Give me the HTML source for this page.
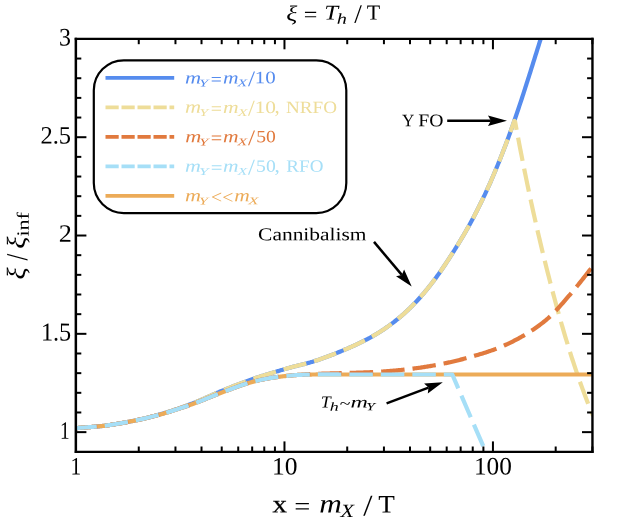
<!DOCTYPE html>
<html><head><meta charset="utf-8"><title>plot</title>
<style>
html,body{margin:0;padding:0;background:#fff;}
svg{display:block;will-change:transform}
text{font-family:"Liberation Serif",serif;}
.it{font-style:italic}
.sb{stroke:#000;stroke-width:0.25px}
</style></head><body>
<svg width="630" height="520" viewBox="0 0 630 520">
<rect width="630" height="520" fill="#fff"/>
<defs><clipPath id="c"><rect x="76.0" y="38.9" width="516.4" height="412.90000000000003"/></clipPath></defs>
<g clip-path="url(#c)" fill="none" stroke-linecap="butt" stroke-linejoin="round">
<path d="M70.00,428.90 L70.68,428.82 L71.36,428.73 L72.04,428.65 L72.72,428.57 L73.40,428.48 L74.08,428.41 L74.76,428.33 L75.44,428.26 L76.12,428.19 L76.80,428.12 L77.48,428.06 L78.16,428.00 L78.84,427.94 L79.52,427.88 L80.20,427.82 L80.87,427.77 L81.55,427.71 L82.23,427.66 L82.91,427.61 L83.59,427.56 L84.27,427.51 L84.95,427.46 L85.63,427.41 L86.31,427.36 L86.99,427.31 L87.67,427.26 L88.35,427.21 L89.03,427.17 L89.71,427.12 L90.39,427.07 L91.07,427.02 L91.75,426.97 L92.43,426.92 L93.11,426.87 L93.79,426.81 L94.47,426.76 L95.15,426.70 L95.83,426.65 L96.51,426.59 L97.19,426.53 L97.87,426.46 L98.55,426.40 L99.23,426.33 L99.91,426.26 L100.59,426.19 L101.27,426.12 L101.95,426.04 L102.62,425.96 L103.30,425.88 L103.98,425.80 L104.66,425.72 L105.34,425.63 L106.02,425.54 L106.70,425.45 L107.38,425.36 L108.06,425.27 L108.74,425.17 L109.42,425.08 L110.10,424.98 L110.78,424.88 L111.46,424.77 L112.14,424.67 L112.82,424.57 L113.50,424.46 L114.18,424.35 L114.86,424.24 L115.54,424.13 L116.22,424.02 L116.90,423.91 L117.58,423.79 L118.26,423.68 L118.94,423.56 L119.62,423.44 L120.30,423.32 L120.98,423.20 L121.66,423.08 L122.34,422.96 L123.02,422.84 L123.70,422.71 L124.37,422.59 L125.05,422.46 L125.73,422.34 L126.41,422.21 L127.09,422.08 L127.77,421.95 L128.45,421.82 L129.13,421.69 L129.81,421.56 L130.49,421.43 L131.17,421.30 L131.85,421.17 L132.53,421.04 L133.21,420.90 L133.89,420.76 L134.57,420.63 L135.25,420.49 L135.93,420.34 L136.61,420.20 L137.29,420.06 L137.97,419.91 L138.65,419.76 L139.33,419.61 L140.01,419.46 L140.69,419.30 L141.37,419.15 L142.05,418.99 L142.73,418.83 L143.41,418.67 L144.09,418.51 L144.77,418.34 L145.45,418.18 L146.12,418.01 L146.80,417.85 L147.48,417.68 L148.16,417.51 L148.84,417.33 L149.52,417.16 L150.20,416.99 L150.88,416.81 L151.56,416.63 L152.24,416.46 L152.92,416.28 L153.60,416.09 L154.28,415.91 L154.96,415.73 L155.64,415.55 L156.32,415.36 L157.00,415.17 L157.68,414.99 L158.36,414.80 L159.04,414.61 L159.72,414.42 L160.40,414.23 L161.08,414.03 L161.76,413.84 L162.44,413.65 L163.12,413.45 L163.80,413.25 L164.48,413.05 L165.16,412.85 L165.84,412.65 L166.52,412.44 L167.19,412.23 L167.87,412.02 L168.55,411.81 L169.23,411.60 L169.91,411.38 L170.59,411.17 L171.27,410.95 L171.95,410.73 L172.63,410.50 L173.31,410.28 L173.99,410.05 L174.67,409.82 L175.35,409.59 L176.03,409.36 L176.71,409.13 L177.39,408.90 L178.07,408.66 L178.75,408.43 L179.43,408.19 L180.11,407.95 L180.79,407.71 L181.47,407.46 L182.15,407.22 L182.83,406.98 L183.51,406.73 L184.19,406.48 L184.87,406.24 L185.55,405.99 L186.23,405.74 L186.91,405.49 L187.59,405.23 L188.27,404.98 L188.94,404.73 L189.62,404.47 L190.30,404.22 L190.98,403.96 L191.66,403.70 L192.34,403.45 L193.02,403.18 L193.70,402.92 L194.38,402.65 L195.06,402.38 L195.74,402.11 L196.42,401.83 L197.10,401.55 L197.78,401.27 L198.46,400.99 L199.14,400.70 L199.82,400.41 L200.50,400.12 L201.18,399.83 L201.86,399.53 L202.54,399.24 L203.22,398.94 L203.90,398.64 L204.58,398.34 L205.26,398.04 L205.94,397.74 L206.62,397.44 L207.30,397.13 L207.98,396.83 L208.66,396.53 L209.34,396.22 L210.02,395.92 L210.69,395.62 L211.37,395.32 L212.05,395.01 L212.73,394.71 L213.41,394.41 L214.09,394.11 L214.77,393.82 L215.45,393.52 L216.13,393.22 L216.81,392.93 L217.49,392.64 L218.17,392.35 L218.85,392.06 L219.53,391.78 L220.21,391.49 L220.89,391.21 L221.57,390.93 L222.25,390.66 L222.93,390.38 L223.61,390.11 L224.29,389.83 L224.97,389.56 L225.65,389.29 L226.33,389.01 L227.01,388.74 L227.69,388.47 L228.37,388.19 L229.05,387.92 L229.73,387.65 L230.41,387.38 L231.09,387.11 L231.77,386.84 L232.44,386.57 L233.12,386.30 L233.80,386.03 L234.48,385.76 L235.16,385.50 L235.84,385.23 L236.52,384.96 L237.20,384.70 L237.88,384.44 L238.56,384.18 L239.24,383.92 L239.92,383.66 L240.60,383.40 L241.28,383.14 L241.96,382.88 L242.64,382.63 L243.32,382.37 L244.00,382.12 L244.68,381.87 L245.36,381.62 L246.04,381.37 L246.72,381.13 L247.40,380.88 L248.08,380.64 L248.76,380.39 L249.44,380.15 L250.12,379.92 L250.80,379.68 L251.48,379.44 L252.16,379.21 L252.84,378.98 L253.52,378.75 L254.19,378.52 L254.87,378.29 L255.55,378.06 L256.23,377.84 L256.91,377.62 L257.59,377.40 L258.27,377.17 L258.95,376.96 L259.63,376.74 L260.31,376.52 L260.99,376.30 L261.67,376.09 L262.35,375.87 L263.03,375.66 L263.71,375.45 L264.39,375.24 L265.07,375.03 L265.75,374.82 L266.43,374.61 L267.11,374.40 L267.79,374.19 L268.47,373.99 L269.15,373.78 L269.83,373.57 L270.51,373.37 L271.19,373.16 L271.87,372.96 L272.55,372.75 L273.23,372.55 L273.91,372.34 L274.59,372.14 L275.26,371.94 L275.94,371.73 L276.62,371.53 L277.30,371.33 L277.98,371.12 L278.66,370.92 L279.34,370.72 L280.02,370.51 L280.70,370.31 L281.38,370.11 L282.06,369.90 L282.74,369.70 L283.42,369.50 L284.10,369.29 L284.78,369.09 L285.46,368.89 L286.14,368.70 L286.82,368.50 L287.50,368.30 L288.18,368.11 L288.86,367.92 L289.54,367.73 L290.22,367.54 L290.90,367.36 L291.58,367.17 L292.26,367.00 L292.94,366.82 L293.62,366.65 L294.30,366.47 L294.98,366.30 L295.66,366.14 L296.34,365.97 L297.01,365.80 L297.69,365.64 L298.37,365.47 L299.05,365.31 L299.73,365.14 L300.41,364.98 L301.09,364.81 L301.77,364.65 L302.45,364.48 L303.13,364.31 L303.81,364.15 L304.49,363.97 L305.17,363.80 L305.85,363.63 L306.53,363.45 L307.21,363.27 L307.89,363.08 L308.57,362.90 L309.25,362.71 L309.93,362.51 L310.61,362.32 L311.29,362.11 L311.97,361.91 L312.65,361.70 L313.33,361.49 L314.01,361.28 L314.69,361.06 L315.37,360.84 L316.05,360.62 L316.73,360.40 L317.41,360.17 L318.09,359.95 L318.76,359.72 L319.44,359.48 L320.12,359.25 L320.80,359.01 L321.48,358.77 L322.16,358.53 L322.84,358.29 L323.52,358.04 L324.20,357.80 L324.88,357.55 L325.56,357.30 L326.24,357.05 L326.92,356.79 L327.60,356.54 L328.28,356.28 L328.96,356.03 L329.64,355.77 L330.32,355.51 L331.00,355.24 L331.68,354.98 L332.36,354.72 L333.04,354.45 L333.72,354.18 L334.40,353.91 L335.08,353.65 L335.76,353.38 L336.44,353.11 L337.12,352.83 L337.80,352.56 L338.48,352.29 L339.16,352.01 L339.84,351.74 L340.51,351.46 L341.19,351.18 L341.87,350.90 L342.55,350.62 L343.23,350.34 L343.91,350.05 L344.59,349.77 L345.27,349.48 L345.95,349.19 L346.63,348.89 L347.31,348.60 L347.99,348.31 L348.67,348.01 L349.35,347.71 L350.03,347.41 L350.71,347.11 L351.39,346.81 L352.07,346.50 L352.75,346.20 L353.43,345.89 L354.11,345.58 L354.79,345.27 L355.47,344.95 L356.15,344.64 L356.83,344.32 L357.51,344.00 L358.19,343.68 L358.87,343.36 L359.55,343.03 L360.23,342.70 L360.91,342.37 L361.58,342.04 L362.26,341.70 L362.94,341.37 L363.62,341.03 L364.30,340.68 L364.98,340.34 L365.66,339.99 L366.34,339.64 L367.02,339.29 L367.70,338.93 L368.38,338.57 L369.06,338.21 L369.74,337.85 L370.42,337.47 L371.10,337.10 L371.78,336.72 L372.46,336.33 L373.14,335.94 L373.82,335.55 L374.50,335.15 L375.18,334.75 L375.86,334.35 L376.54,333.94 L377.22,333.53 L377.90,333.12 L378.58,332.70 L379.26,332.27 L379.94,331.84 L380.62,331.41 L381.30,330.98 L381.98,330.53 L382.66,330.09 L383.33,329.64 L384.01,329.19 L384.69,328.73 L385.37,328.27 L386.05,327.80 L386.73,327.33 L387.41,326.85 L388.09,326.37 L388.77,325.88 L389.45,325.39 L390.13,324.89 L390.81,324.39 L391.49,323.89 L392.17,323.38 L392.85,322.86 L393.53,322.34 L394.21,321.81 L394.89,321.28 L395.57,320.74 L396.25,320.20 L396.93,319.65 L397.61,319.10 L398.29,318.54 L398.97,317.98 L399.65,317.41 L400.33,316.84 L401.01,316.25 L401.69,315.67 L402.37,315.08 L403.05,314.48 L403.73,313.87 L404.41,313.26 L405.08,312.65 L405.76,312.03 L406.44,311.40 L407.12,310.77 L407.80,310.13 L408.48,309.48 L409.16,308.83 L409.84,308.17 L410.52,307.50 L411.20,306.83 L411.88,306.16 L412.56,305.47 L413.24,304.78 L413.92,304.08 L414.60,303.38 L415.28,302.67 L415.96,301.95 L416.64,301.23 L417.32,300.50 L418.00,299.76 L418.68,299.02 L419.36,298.26 L420.04,297.51 L420.72,296.74 L421.40,295.97 L422.08,295.19 L422.76,294.40 L423.44,293.61 L424.12,292.81 L424.80,292.00 L425.48,291.19 L426.16,290.37 L426.83,289.54 L427.51,288.71 L428.19,287.87 L428.87,287.02 L429.55,286.16 L430.23,285.30 L430.91,284.43 L431.59,283.55 L432.27,282.66 L432.95,281.77 L433.63,280.87 L434.31,279.97 L434.99,279.05 L435.67,278.13 L436.35,277.20 L437.03,276.27 L437.71,275.33 L438.39,274.38 L439.07,273.42 L439.75,272.46 L440.43,271.48 L441.11,270.51 L441.79,269.52 L442.47,268.53 L443.15,267.53 L443.83,266.53 L444.51,265.52 L445.19,264.50 L445.87,263.48 L446.55,262.46 L447.23,261.42 L447.91,260.39 L448.58,259.34 L449.26,258.30 L449.94,257.24 L450.62,256.18 L451.30,255.12 L451.98,254.05 L452.66,252.98 L453.34,251.91 L454.02,250.83 L454.70,249.74 L455.38,248.65 L456.06,247.56 L456.74,246.47 L457.42,245.36 L458.10,244.26 L458.78,243.15 L459.46,242.03 L460.14,240.91 L460.82,239.78 L461.50,238.64 L462.18,237.50 L462.86,236.35 L463.54,235.20 L464.22,234.04 L464.90,232.87 L465.58,231.69 L466.26,230.51 L466.94,229.32 L467.62,228.12 L468.30,226.91 L468.98,225.69 L469.65,224.47 L470.33,223.23 L471.01,221.99 L471.69,220.74 L472.37,219.47 L473.05,218.20 L473.73,216.92 L474.41,215.62 L475.09,214.32 L475.77,213.01 L476.45,211.69 L477.13,210.35 L477.81,209.01 L478.49,207.66 L479.17,206.30 L479.85,204.92 L480.53,203.54 L481.21,202.15 L481.89,200.74 L482.57,199.33 L483.25,197.90 L483.93,196.47 L484.61,195.02 L485.29,193.57 L485.97,192.10 L486.65,190.62 L487.33,189.14 L488.01,187.64 L488.69,186.13 L489.37,184.61 L490.05,183.07 L490.73,181.53 L491.40,179.98 L492.08,178.41 L492.76,176.84 L493.44,175.25 L494.12,173.65 L494.80,172.04 L495.48,170.42 L496.16,168.79 L496.84,167.15 L497.52,165.49 L498.20,163.82 L498.88,162.15 L499.56,160.46 L500.24,158.76 L500.92,157.04 L501.60,155.32 L502.28,153.58 L502.96,151.83 L503.64,150.07 L504.32,148.30 L505.00,146.52 L505.68,144.72 L506.36,142.91 L507.04,141.09 L507.72,139.26 L508.40,137.41 L509.08,135.55 L509.76,133.69 L510.44,131.80 L511.12,129.91 L511.80,128.00 L512.48,126.08 L513.15,124.15 L513.83,122.21 L514.51,120.25 L515.19,118.28 L515.87,116.30 L516.55,114.30 L517.23,112.30 L517.91,110.28 L518.59,108.25 L519.27,106.21 L519.95,104.17 L520.63,102.11 L521.31,100.04 L521.99,97.97 L522.67,95.88 L523.35,93.79 L524.03,91.69 L524.71,89.58 L525.39,87.47 L526.07,85.35 L526.75,83.22 L527.43,81.09 L528.11,78.95 L528.79,76.81 L529.47,74.66 L530.15,72.51 L530.83,70.36 L531.51,68.20 L532.19,66.04 L532.87,63.87 L533.55,61.71 L534.23,59.54 L534.90,57.37 L535.58,55.20 L536.26,53.02 L536.94,50.85 L537.62,48.68 L538.30,46.51 L538.98,44.33 L539.66,42.16 L540.34,40.00 L541.02,37.83 L541.70,35.66 L542.38,33.50 L543.06,31.34 L543.74,29.19 L544.42,27.04 L545.10,24.89" stroke="#568cee" stroke-width="4.2"/>
<path d="M70.00,428.90 L70.68,428.82 L71.36,428.73 L72.04,428.65 L72.72,428.57 L73.40,428.48 L74.08,428.41 L74.76,428.33 L75.44,428.26 L76.12,428.19 L76.80,428.12 L77.48,428.06 L78.16,428.00 L78.84,427.94 L79.52,427.88 L80.20,427.82 L80.87,427.77 L81.55,427.71 L82.23,427.66 L82.91,427.61 L83.59,427.56 L84.27,427.51 L84.95,427.46 L85.63,427.41 L86.31,427.36 L86.99,427.31 L87.67,427.26 L88.35,427.21 L89.03,427.17 L89.71,427.12 L90.39,427.07 L91.07,427.02 L91.75,426.97 L92.43,426.92 L93.11,426.87 L93.79,426.81 L94.47,426.76 L95.15,426.70 L95.83,426.65 L96.51,426.59 L97.19,426.53 L97.87,426.46 L98.55,426.40 L99.23,426.33 L99.91,426.26 L100.59,426.19 L101.27,426.12 L101.95,426.04 L102.62,425.96 L103.30,425.88 L103.98,425.80 L104.66,425.72 L105.34,425.63 L106.02,425.54 L106.70,425.45 L107.38,425.36 L108.06,425.27 L108.74,425.17 L109.42,425.08 L110.10,424.98 L110.78,424.88 L111.46,424.77 L112.14,424.67 L112.82,424.57 L113.50,424.46 L114.18,424.35 L114.86,424.24 L115.54,424.13 L116.22,424.02 L116.90,423.91 L117.58,423.79 L118.26,423.68 L118.94,423.56 L119.62,423.44 L120.30,423.32 L120.98,423.20 L121.66,423.08 L122.34,422.96 L123.02,422.84 L123.70,422.71 L124.37,422.59 L125.05,422.46 L125.73,422.34 L126.41,422.21 L127.09,422.08 L127.77,421.95 L128.45,421.82 L129.13,421.69 L129.81,421.56 L130.49,421.43 L131.17,421.30 L131.85,421.17 L132.53,421.04 L133.21,420.90 L133.89,420.76 L134.57,420.63 L135.25,420.49 L135.93,420.34 L136.61,420.20 L137.29,420.06 L137.97,419.91 L138.65,419.76 L139.33,419.61 L140.01,419.46 L140.69,419.30 L141.37,419.15 L142.05,418.99 L142.73,418.83 L143.41,418.67 L144.09,418.51 L144.77,418.34 L145.45,418.18 L146.12,418.01 L146.80,417.85 L147.48,417.68 L148.16,417.51 L148.84,417.33 L149.52,417.16 L150.20,416.99 L150.88,416.81 L151.56,416.63 L152.24,416.46 L152.92,416.28 L153.60,416.09 L154.28,415.91 L154.96,415.73 L155.64,415.55 L156.32,415.36 L157.00,415.17 L157.68,414.99 L158.36,414.80 L159.04,414.61 L159.72,414.42 L160.40,414.23 L161.08,414.03 L161.76,413.84 L162.44,413.65 L163.12,413.45 L163.80,413.25 L164.48,413.05 L165.16,412.85 L165.84,412.65 L166.52,412.44 L167.19,412.23 L167.87,412.02 L168.55,411.81 L169.23,411.60 L169.91,411.38 L170.59,411.17 L171.27,410.95 L171.95,410.73 L172.63,410.50 L173.31,410.28 L173.99,410.05 L174.67,409.82 L175.35,409.59 L176.03,409.36 L176.71,409.13 L177.39,408.90 L178.07,408.66 L178.75,408.43 L179.43,408.19 L180.11,407.95 L180.79,407.71 L181.47,407.46 L182.15,407.22 L182.83,406.98 L183.51,406.73 L184.19,406.48 L184.87,406.24 L185.55,405.99 L186.23,405.74 L186.91,405.49 L187.59,405.23 L188.27,404.98 L188.94,404.73 L189.62,404.47 L190.30,404.22 L190.98,403.96 L191.66,403.70 L192.34,403.45 L193.02,403.18 L193.70,402.92 L194.38,402.65 L195.06,402.38 L195.74,402.11 L196.42,401.83 L197.10,401.55 L197.78,401.27 L198.46,400.99 L199.14,400.70 L199.82,400.41 L200.50,400.12 L201.18,399.83 L201.86,399.53 L202.54,399.24 L203.22,398.94 L203.90,398.64 L204.58,398.34 L205.26,398.04 L205.94,397.74 L206.62,397.44 L207.30,397.13 L207.98,396.83 L208.66,396.53 L209.34,396.22 L210.02,395.92 L210.69,395.62 L211.37,395.32 L212.05,395.01 L212.73,394.71 L213.41,394.41 L214.09,394.11 L214.77,393.82 L215.45,393.52 L216.13,393.22 L216.81,392.93 L217.49,392.64 L218.17,392.35 L218.85,392.06 L219.53,391.78 L220.21,391.49 L220.89,391.21 L221.57,390.93 L222.25,390.66 L222.93,390.38 L223.61,390.11 L224.29,389.83 L224.97,389.56 L225.65,389.29 L226.33,389.01 L227.01,388.74 L227.69,388.47 L228.37,388.19 L229.05,387.92 L229.73,387.65 L230.41,387.38 L231.09,387.11 L231.77,386.84 L232.44,386.57 L233.12,386.30 L233.80,386.03 L234.48,385.76 L235.16,385.50 L235.84,385.23 L236.52,384.96 L237.20,384.70 L237.88,384.44 L238.56,384.18 L239.24,383.92 L239.92,383.66 L240.60,383.40 L241.28,383.14 L241.96,382.88 L242.64,382.63 L243.32,382.37 L244.00,382.12 L244.68,381.87 L245.36,381.62 L246.04,381.37 L246.72,381.13 L247.40,380.88 L248.08,380.64 L248.76,380.39 L249.44,380.15 L250.12,379.92 L250.80,379.68 L251.48,379.44 L252.16,379.21 L252.84,378.98 L253.52,378.75 L254.19,378.52 L254.87,378.29 L255.55,378.06 L256.23,377.84 L256.91,377.62 L257.59,377.40 L258.27,377.17 L258.95,376.96 L259.63,376.74 L260.31,376.52 L260.99,376.30 L261.67,376.09 L262.35,375.87 L263.03,375.66 L263.71,375.45 L264.39,375.24 L265.07,375.03 L265.75,374.82 L266.43,374.61 L267.11,374.40 L267.79,374.19 L268.47,373.99 L269.15,373.78 L269.83,373.57 L270.51,373.37 L271.19,373.16 L271.87,372.96 L272.55,372.75 L273.23,372.55 L273.91,372.34 L274.59,372.14 L275.26,371.94 L275.94,371.73 L276.62,371.53 L277.30,371.33 L277.98,371.12 L278.66,370.92 L279.34,370.72 L280.02,370.51 L280.70,370.31 L281.38,370.11 L282.06,369.90 L282.74,369.70 L283.42,369.50 L284.10,369.29 L284.78,369.09 L285.46,368.89 L286.14,368.70 L286.82,368.50 L287.50,368.30 L288.18,368.11 L288.86,367.92 L289.54,367.73 L290.22,367.54 L290.90,367.36 L291.58,367.17 L292.26,367.00 L292.94,366.82 L293.62,366.65 L294.30,366.47 L294.98,366.30 L295.66,366.14 L296.34,365.97 L297.01,365.80 L297.69,365.64 L298.37,365.47 L299.05,365.31 L299.73,365.14 L300.41,364.98 L301.09,364.81 L301.77,364.65 L302.45,364.48 L303.13,364.31 L303.81,364.15 L304.49,363.97 L305.17,363.80 L305.85,363.63 L306.53,363.45 L307.21,363.27 L307.89,363.08 L308.57,362.90 L309.25,362.71 L309.93,362.51 L310.61,362.32 L311.29,362.11 L311.97,361.91 L312.65,361.70 L313.33,361.49 L314.01,361.28 L314.69,361.06 L315.37,360.84 L316.05,360.62 L316.73,360.40 L317.41,360.17 L318.09,359.95 L318.76,359.72 L319.44,359.48 L320.12,359.25 L320.80,359.01 L321.48,358.77 L322.16,358.53 L322.84,358.29 L323.52,358.04 L324.20,357.80 L324.88,357.55 L325.56,357.30 L326.24,357.05 L326.92,356.79 L327.60,356.54 L328.28,356.28 L328.96,356.03 L329.64,355.77 L330.32,355.51 L331.00,355.24 L331.68,354.98 L332.36,354.72 L333.04,354.45 L333.72,354.18 L334.40,353.91 L335.08,353.65 L335.76,353.38 L336.44,353.11 L337.12,352.83 L337.80,352.56 L338.48,352.29 L339.16,352.01 L339.84,351.74 L340.51,351.46 L341.19,351.18 L341.87,350.90 L342.55,350.62 L343.23,350.34 L343.91,350.05 L344.59,349.77 L345.27,349.48 L345.95,349.19 L346.63,348.89 L347.31,348.60 L347.99,348.31 L348.67,348.01 L349.35,347.71 L350.03,347.41 L350.71,347.11 L351.39,346.81 L352.07,346.50 L352.75,346.20 L353.43,345.89 L354.11,345.58 L354.79,345.27 L355.47,344.95 L356.15,344.64 L356.83,344.32 L357.51,344.00 L358.19,343.68 L358.87,343.36 L359.55,343.03 L360.23,342.70 L360.91,342.37 L361.58,342.04 L362.26,341.70 L362.94,341.37 L363.62,341.03 L364.30,340.68 L364.98,340.34 L365.66,339.99 L366.34,339.64 L367.02,339.29 L367.70,338.93 L368.38,338.57 L369.06,338.21 L369.74,337.85 L370.42,337.47 L371.10,337.10 L371.78,336.72 L372.46,336.33 L373.14,335.94 L373.82,335.55 L374.50,335.15 L375.18,334.75 L375.86,334.35 L376.54,333.94 L377.22,333.53 L377.90,333.12 L378.58,332.70 L379.26,332.27 L379.94,331.84 L380.62,331.41 L381.30,330.98 L381.98,330.53 L382.66,330.09 L383.33,329.64 L384.01,329.19 L384.69,328.73 L385.37,328.27 L386.05,327.80 L386.73,327.33 L387.41,326.85 L388.09,326.37 L388.77,325.88 L389.45,325.39 L390.13,324.89 L390.81,324.39 L391.49,323.89 L392.17,323.38 L392.85,322.86 L393.53,322.34 L394.21,321.81 L394.89,321.28 L395.57,320.74 L396.25,320.20 L396.93,319.65 L397.61,319.10 L398.29,318.54 L398.97,317.98 L399.65,317.41 L400.33,316.84 L401.01,316.25 L401.69,315.67 L402.37,315.08 L403.05,314.48 L403.73,313.87 L404.41,313.26 L405.08,312.65 L405.76,312.03 L406.44,311.40 L407.12,310.77 L407.80,310.13 L408.48,309.48 L409.16,308.83 L409.84,308.17 L410.52,307.50 L411.20,306.83 L411.88,306.16 L412.56,305.47 L413.24,304.78 L413.92,304.08 L414.60,303.38 L415.28,302.67 L415.96,301.95 L416.64,301.23 L417.32,300.50 L418.00,299.76 L418.68,299.02 L419.36,298.26 L420.04,297.51 L420.72,296.74 L421.40,295.97 L422.08,295.19 L422.76,294.40 L423.44,293.61 L424.12,292.81 L424.80,292.00 L425.48,291.19 L426.16,290.37 L426.83,289.54 L427.51,288.71 L428.19,287.87 L428.87,287.02 L429.55,286.16 L430.23,285.30 L430.91,284.43 L431.59,283.55 L432.27,282.66 L432.95,281.77 L433.63,280.87 L434.31,279.97 L434.99,279.05 L435.67,278.13 L436.35,277.20 L437.03,276.27 L437.71,275.33 L438.39,274.38 L439.07,273.42 L439.75,272.46 L440.43,271.48 L441.11,270.51 L441.79,269.52 L442.47,268.53 L443.15,267.53 L443.83,266.53 L444.51,265.52 L445.19,264.50 L445.87,263.48 L446.55,262.46 L447.23,261.42 L447.91,260.39 L448.58,259.34 L449.26,258.30 L449.94,257.24 L450.62,256.18 L451.30,255.12 L451.98,254.05 L452.66,252.98 L453.34,251.91 L454.02,250.83 L454.70,249.74 L455.38,248.65 L456.06,247.56 L456.74,246.47 L457.42,245.36 L458.10,244.26 L458.78,243.15 L459.46,242.03 L460.14,240.91 L460.82,239.78 L461.50,238.64 L462.18,237.50 L462.86,236.35 L463.54,235.20 L464.22,234.04 L464.90,232.87 L465.58,231.69 L466.26,230.51 L466.94,229.32 L467.62,228.12 L468.30,226.91 L468.98,225.69 L469.65,224.47 L470.33,223.23 L471.01,221.99 L471.69,220.74 L472.37,219.47 L473.05,218.20 L473.73,216.92 L474.41,215.62 L475.09,214.32 L475.77,213.01 L476.45,211.69 L477.13,210.35 L477.81,209.01 L478.49,207.66 L479.17,206.30 L479.85,204.92 L480.53,203.54 L481.21,202.15 L481.89,200.74 L482.57,199.33 L483.25,197.90 L483.93,196.47 L484.61,195.02 L485.29,193.57 L485.97,192.10 L486.65,190.62 L487.33,189.14 L488.01,187.64 L488.69,186.13 L489.37,184.61 L490.05,183.07 L490.73,181.53 L491.40,179.98 L492.08,178.41 L492.76,176.84 L493.44,175.25 L494.12,173.65 L494.80,172.04 L495.48,170.42 L496.16,168.79 L496.84,167.15 L497.52,165.49 L498.20,163.82 L498.88,162.15 L499.56,160.46 L500.24,158.76 L500.92,157.04 L501.60,155.32 L502.28,153.58 L502.96,151.83 L503.64,150.07 L504.32,148.30 L505.00,146.52 L505.68,144.72 L506.36,142.91 L507.04,141.09 L507.72,139.26 L508.40,137.41 L509.08,135.55 L509.76,133.69 L510.44,131.80 L511.12,129.91 L511.80,128.00 L512.48,126.08 L513.15,124.15 L513.83,122.21 L514.29,120.90" stroke="#eedd99" stroke-width="4.2" stroke-dasharray="23.5 8" stroke-dashoffset="29.0"/>
<path d="M514.29,120.90 L515.14,121.89 L515.32,122.87 L515.51,123.86 L515.69,124.85 L515.87,125.83 L516.05,126.82 L516.24,127.81 L516.42,128.80 L516.60,129.78 L516.79,130.77 L516.97,131.76 L517.16,132.74 L517.34,133.73 L517.53,134.72 L517.71,135.70 L517.90,136.69 L518.09,137.68 L518.27,138.67 L518.46,139.65 L518.65,140.64 L518.84,141.63 L519.03,142.61 L519.21,143.60 L519.40,144.59 L519.59,145.57 L519.78,146.56 L519.97,147.55 L520.16,148.53 L520.36,149.52 L520.55,150.51 L520.74,151.50 L520.93,152.48 L521.13,153.47 L521.32,154.46 L521.51,155.44 L521.71,156.43 L521.90,157.42 L522.10,158.40 L522.29,159.39 L522.49,160.38 L522.68,161.37 L522.88,162.35 L523.08,163.34 L523.27,164.33 L523.47,165.31 L523.67,166.30 L523.87,167.29 L524.07,168.27 L524.27,169.26 L524.47,170.25 L524.67,171.23 L524.87,172.22 L525.07,173.21 L525.27,174.20 L525.47,175.18 L525.67,176.17 L525.88,177.16 L526.08,178.14 L526.28,179.13 L526.49,180.12 L526.69,181.10 L526.90,182.09 L527.10,183.08 L527.31,184.07 L527.51,185.05 L527.72,186.04 L527.93,187.03 L528.14,188.01 L528.34,189.00 L528.55,189.99 L528.76,190.97 L528.97,191.96 L529.18,192.95 L529.39,193.93 L529.60,194.92 L529.81,195.91 L530.02,196.90 L530.24,197.88 L530.45,198.87 L530.66,199.86 L530.88,200.84 L531.09,201.83 L531.30,202.82 L531.52,203.80 L531.73,204.79 L531.95,205.78 L532.17,206.77 L532.38,207.75 L532.60,208.74 L532.82,209.73 L533.04,210.71 L533.25,211.70 L533.47,212.69 L533.69,213.67 L533.91,214.66 L534.13,215.65 L534.35,216.63 L534.58,217.62 L534.80,218.61 L535.02,219.60 L535.24,220.58 L535.47,221.57 L535.69,222.56 L535.91,223.54 L536.14,224.53 L536.36,225.52 L536.59,226.50 L536.82,227.49 L537.04,228.48 L537.27,229.47 L537.50,230.45 L537.73,231.44 L537.96,232.43 L538.19,233.41 L538.42,234.40 L538.65,235.39 L538.88,236.37 L539.11,237.36 L539.34,238.35 L539.57,239.33 L539.81,240.32 L540.04,241.31 L540.27,242.30 L540.51,243.28 L540.74,244.27 L540.98,245.26 L541.21,246.24 L541.45,247.23 L541.69,248.22 L541.92,249.20 L542.16,250.19 L542.40,251.18 L542.64,252.17 L542.88,253.15 L543.12,254.14 L543.36,255.13 L543.60,256.11 L543.84,257.10 L544.09,258.09 L544.33,259.07 L544.57,260.06 L544.82,261.05 L545.06,262.03 L545.31,263.02 L545.55,264.01 L545.80,265.00 L546.05,265.98 L546.29,266.97 L546.54,267.96 L546.79,268.94 L547.04,269.93 L547.29,270.92 L547.54,271.90 L547.79,272.89 L548.04,273.88 L548.29,274.87 L548.54,275.85 L548.80,276.84 L549.05,277.83 L549.30,278.81 L549.56,279.80 L549.81,280.79 L550.07,281.77 L550.32,282.76 L550.58,283.75 L550.84,284.73 L551.10,285.72 L551.36,286.71 L551.61,287.70 L551.87,288.68 L552.13,289.67 L552.40,290.66 L552.66,291.64 L552.92,292.63 L553.18,293.62 L553.44,294.60 L553.71,295.59 L553.97,296.58 L554.24,297.57 L554.50,298.55 L554.77,299.54 L555.04,300.53 L555.30,301.51 L555.57,302.50 L555.84,303.49 L556.11,304.47 L556.38,305.46 L556.65,306.45 L556.92,307.43 L557.19,308.42 L557.46,309.41 L557.74,310.40 L558.01,311.38 L558.29,312.37 L558.56,313.36 L558.84,314.34 L559.11,315.33 L559.39,316.32 L559.67,317.30 L559.95,318.29 L560.23,319.28 L560.51,320.27 L560.79,321.25 L561.07,322.24 L561.36,323.23 L561.64,324.21 L561.92,325.20 L562.21,326.19 L562.50,327.17 L562.78,328.16 L563.07,329.15 L563.36,330.13 L563.65,331.12 L563.94,332.11 L564.23,333.10 L564.53,334.08 L564.82,335.07 L565.11,336.06 L565.41,337.04 L565.71,338.03 L566.00,339.02 L566.30,340.00 L566.60,340.99 L566.90,341.98 L567.20,342.97 L567.51,343.95 L567.81,344.94 L568.11,345.93 L568.42,346.91 L568.73,347.90 L569.03,348.89 L569.34,349.87 L569.65,350.86 L569.96,351.85 L570.28,352.83 L570.59,353.82 L570.90,354.81 L571.22,355.80 L571.54,356.78 L571.85,357.77 L572.17,358.76 L572.49,359.74 L572.82,360.73 L573.14,361.72 L573.46,362.70 L573.79,363.69 L574.11,364.68 L574.44,365.67 L574.77,366.65 L575.10,367.64 L575.43,368.63 L575.76,369.61 L576.10,370.60 L576.43,371.59 L576.77,372.57 L577.11,373.56 L577.45,374.55 L577.79,375.53 L578.13,376.52 L578.47,377.51 L578.82,378.50 L579.16,379.48 L579.51,380.47 L579.86,381.46 L580.21,382.44 L580.56,383.43 L580.92,384.42 L581.27,385.40 L581.63,386.39 L581.99,387.38 L582.35,388.37 L582.71,389.35 L583.07,390.34 L583.44,391.33 L583.80,392.31 L584.17,393.30 L584.54,394.29 L584.91,395.27 L585.29,396.26 L585.66,397.25 L586.04,398.23 L586.42,399.22 L586.80,400.21 L587.18,401.20 L587.57,402.18 L587.95,403.17 L588.34,404.16 L588.73,405.14 L589.13,406.13 L589.52,407.12 L589.92,408.10 L590.31,409.09 L590.71,410.08 L591.12,411.07 L591.52,412.05 L591.93,413.04 L592.34,414.03 L592.75,415.01 L593.16,416.00" stroke="#eedd99" stroke-width="4.2" stroke-dasharray="23.5 8" stroke-dashoffset="14.1"/>
<circle cx="514.29" cy="120.9" r="2.1" fill="#eedd99" stroke="none"/>
<path d="M70.00,428.90 L70.97,428.78 L71.94,428.66 L72.91,428.54 L73.88,428.43 L74.85,428.32 L75.82,428.22 L76.79,428.12 L77.76,428.03 L78.73,427.95 L79.70,427.86 L80.67,427.78 L81.64,427.70 L82.61,427.63 L83.58,427.56 L84.55,427.49 L85.52,427.42 L86.49,427.35 L87.46,427.28 L88.43,427.21 L89.40,427.14 L90.37,427.07 L91.34,427.00 L92.31,426.93 L93.28,426.85 L94.25,426.78 L95.22,426.70 L96.19,426.61 L97.16,426.53 L98.13,426.44 L99.10,426.34 L100.07,426.25 L101.04,426.14 L102.01,426.03 L102.98,425.92 L103.95,425.80 L104.92,425.68 L105.89,425.56 L106.86,425.43 L107.83,425.30 L108.80,425.16 L109.77,425.02 L110.74,424.88 L111.71,424.73 L112.68,424.58 L113.65,424.43 L114.62,424.28 L115.59,424.12 L116.56,423.96 L117.53,423.79 L118.49,423.63 L119.46,423.46 L120.43,423.29 L121.40,423.12 L122.37,422.94 L123.34,422.77 L124.31,422.59 L125.28,422.41 L126.25,422.23 L127.22,422.05 L128.19,421.87 L129.16,421.68 L130.13,421.50 L131.10,421.31 L132.07,421.12 L133.04,420.94 L134.01,420.74 L134.98,420.55 L135.95,420.35 L136.92,420.15 L137.89,419.94 L138.86,419.73 L139.83,419.52 L140.80,419.31 L141.77,419.09 L142.74,418.87 L143.71,418.64 L144.68,418.42 L145.65,418.19 L146.62,417.96 L147.59,417.72 L148.56,417.48 L149.53,417.24 L150.50,417.00 L151.47,416.76 L152.44,416.51 L153.41,416.26 L154.38,416.01 L155.35,415.76 L156.32,415.50 L157.29,415.24 L158.26,414.98 L159.23,414.72 L160.20,414.46 L161.17,414.19 L162.14,413.93 L163.11,413.66 L164.08,413.38 L165.05,413.10 L166.02,412.81 L166.99,412.52 L167.96,412.22 L168.93,411.92 L169.90,411.61 L170.87,411.30 L171.84,410.98 L172.81,410.67 L173.78,410.35 L174.75,410.03 L175.72,409.71 L176.69,409.39 L177.66,409.07 L178.63,408.75 L179.60,408.43 L180.57,408.11 L181.54,407.80 L182.51,407.48 L183.48,407.16 L184.45,406.85 L185.42,406.53 L186.39,406.20 L187.36,405.88 L188.33,405.55 L189.30,405.22 L190.27,404.88 L191.24,404.54 L192.21,404.20 L193.18,403.85 L194.15,403.49 L195.12,403.13 L196.09,402.76 L197.06,402.39 L198.03,402.02 L199.00,401.64 L199.97,401.25 L200.94,400.87 L201.91,400.48 L202.88,400.09 L203.85,399.70 L204.82,399.31 L205.79,398.91 L206.76,398.51 L207.73,398.12 L208.70,397.72 L209.67,397.33 L210.64,396.93 L211.61,396.54 L212.58,396.14 L213.55,395.75 L214.52,395.36 L215.48,394.97 L216.45,394.59 L217.42,394.21 L218.39,393.83 L219.36,393.46 L220.33,393.09 L221.30,392.72 L222.27,392.36 L223.24,392.00 L224.21,391.64 L225.18,391.27 L226.15,390.90 L227.12,390.53 L228.09,390.17 L229.06,389.80 L230.03,389.43 L231.00,389.06 L231.97,388.69 L232.94,388.33 L233.91,387.96 L234.88,387.60 L235.85,387.24 L236.82,386.89 L237.79,386.53 L238.76,386.18 L239.73,385.84 L240.70,385.50 L241.67,385.16 L242.64,384.83 L243.61,384.51 L244.58,384.19 L245.55,383.88 L246.52,383.57 L247.49,383.27 L248.46,382.98 L249.43,382.70 L250.40,382.43 L251.37,382.16 L252.34,381.90 L253.31,381.65 L254.28,381.40 L255.25,381.16 L256.22,380.93 L257.19,380.69 L258.16,380.47 L259.13,380.25 L260.10,380.03 L261.07,379.82 L262.04,379.61 L263.01,379.41 L263.98,379.22 L264.95,379.03 L265.92,378.85 L266.89,378.67 L267.86,378.50 L268.83,378.33 L269.80,378.17 L270.77,378.01 L271.74,377.85 L272.71,377.70 L273.68,377.55 L274.65,377.40 L275.62,377.26 L276.59,377.12 L277.56,376.99 L278.53,376.86 L279.50,376.73 L280.47,376.61 L281.44,376.49 L282.41,376.37 L283.38,376.26 L284.35,376.15 L285.32,376.05 L286.29,375.95 L287.26,375.85 L288.23,375.76 L289.20,375.67 L290.17,375.58 L291.14,375.49 L292.11,375.40 L293.08,375.31 L294.05,375.22 L295.02,375.14 L295.99,375.06 L296.96,374.99 L297.93,374.93 L298.90,374.89 L299.87,374.85 L300.84,374.81 L301.81,374.78 L302.78,374.74 L303.75,374.71 L304.72,374.68 L305.69,374.65 L306.66,374.63 L307.63,374.61 L308.60,374.58 L309.57,374.56 L310.54,374.55 L311.51,374.53 L312.47,374.52 L313.44,374.50 L314.41,374.49 L315.38,374.48 L316.35,374.47 L317.32,374.46 L318.29,374.46 L319.26,374.45 L320.23,374.44 L321.20,374.43 L322.17,374.42 L323.14,374.42 L324.11,374.41 L325.08,374.41 L326.05,374.40 L327.02,374.40 L327.99,374.40 L328.96,374.40 L329.93,374.40 L330.90,374.40 L331.87,374.41 L332.84,374.42 L333.81,374.42 L334.78,374.43 L335.75,374.44 L336.72,374.45 L337.69,374.46 L338.66,374.47 L339.63,374.48 L340.60,374.49 L341.57,374.49 L342.54,374.50 L343.51,374.50 L344.48,374.50 L345.45,374.50 L346.42,374.50 L347.39,374.50 L348.36,374.50 L349.33,374.50 L350.30,374.50 L351.27,374.50 L352.24,374.50 L353.21,374.50 L354.18,374.50 L355.15,374.50 L356.12,374.50 L357.09,374.50 L358.06,374.50 L359.03,374.50 L360.00,374.50 L592.40,374.50" stroke="#ecab58" stroke-width="4.2"/>
<path d="M70.00,428.90 L71.05,428.77 L72.10,428.64 L73.15,428.51 L74.20,428.39 L75.25,428.28 L76.30,428.17 L77.35,428.07 L78.40,427.97 L79.45,427.88 L80.50,427.80 L81.55,427.71 L82.60,427.63 L83.65,427.55 L84.70,427.47 L85.75,427.40 L86.80,427.32 L87.85,427.25 L88.90,427.18 L89.95,427.10 L91.00,427.02 L92.05,426.95 L93.10,426.87 L94.15,426.78 L95.20,426.70 L96.25,426.61 L97.30,426.52 L98.35,426.42 L99.40,426.31 L100.45,426.21 L101.50,426.09 L102.55,425.97 L103.60,425.85 L104.65,425.72 L105.70,425.58 L106.75,425.44 L107.80,425.30 L108.85,425.15 L109.90,425.00 L110.95,424.85 L112.00,424.69 L113.05,424.52 L114.10,424.36 L115.15,424.19 L116.20,424.02 L117.25,423.84 L118.30,423.66 L119.35,423.48 L120.40,423.30 L121.45,423.11 L122.51,422.92 L123.56,422.73 L124.61,422.54 L125.66,422.34 L126.71,422.15 L127.76,421.95 L128.81,421.75 L129.86,421.55 L130.91,421.35 L131.96,421.15 L133.01,420.94 L134.06,420.74 L135.11,420.52 L136.16,420.31 L137.21,420.09 L138.26,419.86 L139.31,419.64 L140.36,419.41 L141.41,419.17 L142.46,418.93 L143.51,418.69 L144.56,418.45 L145.61,418.20 L146.66,417.95 L147.71,417.69 L148.76,417.43 L149.81,417.17 L150.86,416.91 L151.91,416.65 L152.96,416.38 L154.01,416.11 L155.06,415.83 L156.11,415.56 L157.16,415.28 L158.21,415.00 L159.26,414.71 L160.31,414.43 L161.36,414.14 L162.41,413.85 L163.46,413.56 L164.51,413.26 L165.56,412.95 L166.61,412.63 L167.66,412.31 L168.71,411.99 L169.76,411.65 L170.81,411.32 L171.86,410.98 L172.91,410.63 L173.96,410.29 L175.01,409.94 L176.06,409.60 L177.11,409.25 L178.16,408.90 L179.21,408.56 L180.26,408.21 L181.31,407.87 L182.36,407.53 L183.41,407.19 L184.46,406.84 L185.51,406.49 L186.56,406.15 L187.61,405.79 L188.66,405.44 L189.71,405.08 L190.76,404.71 L191.81,404.34 L192.86,403.96 L193.91,403.58 L194.96,403.19 L196.01,402.79 L197.06,402.39 L198.11,401.98 L199.16,401.57 L200.21,401.16 L201.26,400.74 L202.31,400.32 L203.36,399.89 L204.41,399.47 L205.46,399.04 L206.51,398.61 L207.56,398.18 L208.61,397.76 L209.66,397.33 L210.71,396.90 L211.76,396.47 L212.81,396.05 L213.86,395.62 L214.91,395.20 L215.96,394.78 L217.01,394.37 L218.06,393.96 L219.11,393.55 L220.16,393.15 L221.21,392.76 L222.26,392.36 L223.31,391.97 L224.36,391.58 L225.41,391.18 L226.46,390.78 L227.52,390.39 L228.57,389.99 L229.62,389.59 L230.67,389.19 L231.72,388.79 L232.77,388.39 L233.82,388.00 L234.87,387.61 L235.92,387.22 L236.97,386.83 L238.02,386.45 L239.07,386.08 L240.12,385.70 L241.17,385.34 L242.22,384.98 L243.27,384.62 L244.32,384.27 L245.37,383.94 L246.42,383.60 L247.47,383.28 L248.52,382.97 L249.57,382.66 L250.62,382.37 L251.67,382.08 L252.72,381.81 L253.77,381.53 L254.82,381.27 L255.87,381.01 L256.92,380.76 L257.97,380.51 L259.02,380.27 L260.07,380.04 L261.12,379.81 L262.17,379.59 L263.22,379.37 L264.27,379.16 L265.32,378.96 L266.37,378.77 L267.42,378.58 L268.47,378.40 L269.52,378.22 L270.57,378.04 L271.62,377.87 L272.67,377.71 L273.72,377.54 L274.77,377.39 L275.82,377.23 L276.87,377.08 L277.92,376.94 L278.97,376.80 L280.02,376.66 L281.07,376.53 L282.12,376.40 L283.17,376.28 L284.22,376.16 L285.27,376.05 L286.32,375.94 L287.37,375.84 L288.42,375.74 L289.47,375.65 L290.52,375.55 L291.57,375.46 L292.62,375.37 L293.67,375.28 L294.72,375.19 L295.77,375.11 L296.82,375.03 L297.87,374.95 L298.92,374.88 L299.97,374.81 L301.02,374.73 L302.07,374.66 L303.12,374.59 L304.17,374.53 L305.22,374.46 L306.27,374.39 L307.32,374.33 L308.37,374.27 L309.42,374.21 L310.47,374.16 L311.52,374.10 L312.57,374.05 L313.62,374.01 L314.67,373.96 L315.72,373.92 L316.77,373.88 L317.82,373.84 L318.87,373.81 L319.92,373.77 L320.97,373.74 L322.02,373.71 L323.07,373.67 L324.12,373.64 L325.17,373.61 L326.22,373.58 L327.27,373.55 L328.32,373.52 L329.37,373.49 L330.42,373.46 L331.47,373.43 L332.53,373.40 L333.58,373.38 L334.63,373.35 L335.68,373.32 L336.73,373.30 L337.78,373.27 L338.83,373.25 L339.88,373.22 L340.93,373.19 L341.98,373.16 L343.03,373.14 L344.08,373.11 L345.13,373.08 L346.18,373.05 L347.23,373.02 L348.28,372.98 L349.33,372.95 L350.38,372.92 L351.43,372.89 L352.48,372.86 L353.53,372.82 L354.58,372.79 L355.63,372.75 L356.68,372.72 L357.73,372.68 L358.78,372.64 L359.83,372.61 L360.88,372.57 L361.93,372.53 L362.98,372.49 L364.03,372.45 L365.08,372.41 L366.13,372.37 L367.18,372.32 L368.23,372.28 L369.28,372.24 L370.33,372.19 L371.38,372.14 L372.43,372.10 L373.48,372.05 L374.53,372.00 L375.58,371.94 L376.63,371.89 L377.68,371.83 L378.73,371.77 L379.78,371.71 L380.83,371.65 L381.88,371.58 L382.93,371.52 L383.98,371.44 L385.03,371.37 L386.08,371.29 L387.13,371.21 L388.18,371.13 L389.23,371.05 L390.28,370.96 L391.33,370.87 L392.38,370.78 L393.43,370.69 L394.48,370.59 L395.53,370.49 L396.58,370.39 L397.63,370.29 L398.68,370.19 L399.73,370.08 L400.78,369.97 L401.83,369.86 L402.88,369.75 L403.93,369.64 L404.98,369.52 L406.03,369.41 L407.08,369.29 L408.13,369.17 L409.18,369.05 L410.23,368.92 L411.28,368.80 L412.33,368.68 L413.38,368.55 L414.43,368.42 L415.48,368.29 L416.53,368.16 L417.58,368.02 L418.63,367.88 L419.68,367.73 L420.73,367.58 L421.78,367.43 L422.83,367.27 L423.88,367.11 L424.93,366.95 L425.98,366.78 L427.03,366.61 L428.08,366.44 L429.13,366.26 L430.18,366.08 L431.23,365.90 L432.28,365.71 L433.33,365.53 L434.38,365.34 L435.43,365.14 L436.48,364.95 L437.54,364.75 L438.59,364.55 L439.64,364.35 L440.69,364.14 L441.74,363.94 L442.79,363.73 L443.84,363.52 L444.89,363.30 L445.94,363.09 L446.99,362.87 L448.04,362.65 L449.09,362.42 L450.14,362.19 L451.19,361.95 L452.24,361.71 L453.29,361.47 L454.34,361.22 L455.39,360.97 L456.44,360.71 L457.49,360.45 L458.54,360.19 L459.59,359.92 L460.64,359.65 L461.69,359.38 L462.74,359.10 L463.79,358.82 L464.84,358.54 L465.89,358.25 L466.94,357.96 L467.99,357.67 L469.04,357.38 L470.09,357.09 L471.14,356.79 L472.19,356.49 L473.24,356.19 L474.29,355.88 L475.34,355.58 L476.39,355.27 L477.44,354.96 L478.49,354.65 L479.54,354.34 L480.59,354.02 L481.64,353.71 L482.69,353.39 L483.74,353.06 L484.79,352.73 L485.84,352.40 L486.89,352.06 L487.94,351.71 L488.99,351.36 L490.04,351.01 L491.09,350.64 L492.14,350.27 L493.19,349.90 L494.24,349.52 L495.29,349.13 L496.34,348.73 L497.39,348.32 L498.44,347.91 L499.49,347.48 L500.54,347.05 L501.59,346.62 L502.64,346.17 L503.69,345.72 L504.74,345.26 L505.79,344.79 L506.84,344.31 L507.89,343.82 L508.94,343.33 L509.99,342.83 L511.04,342.32 L512.09,341.80 L513.14,341.28 L514.19,340.74 L515.24,340.20 L516.29,339.65 L517.34,339.09 L518.39,338.53 L519.44,337.95 L520.49,337.37 L521.54,336.78 L522.59,336.18 L523.64,335.58 L524.69,334.96 L525.74,334.33 L526.79,333.70 L527.84,333.05 L528.89,332.39 L529.94,331.73 L530.99,331.05 L532.04,330.36 L533.09,329.66 L534.14,328.95 L535.19,328.23 L536.24,327.49 L537.29,326.75 L538.34,325.99 L539.39,325.21 L540.44,324.43 L541.49,323.63 L542.55,322.81 L543.60,321.98 L544.65,321.14 L545.70,320.29 L546.75,319.41 L547.80,318.52 L548.85,317.59 L549.90,316.64 L550.95,315.65 L552.00,314.63 L553.05,313.58 L554.10,312.51 L555.15,311.42 L556.20,310.30 L557.25,309.17 L558.30,308.02 L559.35,306.85 L560.40,305.67 L561.45,304.48 L562.50,303.28 L563.55,302.07 L564.60,300.86 L565.65,299.64 L566.70,298.42 L567.75,297.20 L568.80,295.99 L569.85,294.78 L570.90,293.56 L571.95,292.34 L573.00,291.10 L574.05,289.84 L575.10,288.58 L576.15,287.31 L577.20,286.02 L578.25,284.73 L579.30,283.43 L580.35,282.11 L581.40,280.80 L582.45,279.47 L583.50,278.14 L584.55,276.80 L585.60,275.46 L586.65,274.11 L587.70,272.76 L588.75,271.41 L589.80,270.06 L590.85,268.69 L591.90,267.31 L592.95,265.91 L594.00,264.50" stroke="#e17a3e" stroke-width="4.2" stroke-dasharray="23.5 8" stroke-dashoffset="27.7"/>
<path d="M70.00,428.90 L70.97,428.78 L71.94,428.66 L72.91,428.54 L73.88,428.43 L74.85,428.32 L75.82,428.22 L76.79,428.12 L77.76,428.03 L78.73,427.95 L79.70,427.86 L80.67,427.78 L81.64,427.70 L82.61,427.63 L83.58,427.56 L84.55,427.49 L85.52,427.42 L86.49,427.35 L87.46,427.28 L88.43,427.21 L89.40,427.14 L90.37,427.07 L91.34,427.00 L92.31,426.93 L93.28,426.85 L94.25,426.78 L95.22,426.70 L96.19,426.61 L97.16,426.53 L98.13,426.44 L99.10,426.34 L100.07,426.25 L101.04,426.14 L102.01,426.03 L102.98,425.92 L103.95,425.80 L104.92,425.68 L105.89,425.56 L106.86,425.43 L107.83,425.30 L108.80,425.16 L109.77,425.02 L110.74,424.88 L111.71,424.73 L112.68,424.58 L113.65,424.43 L114.62,424.28 L115.59,424.12 L116.56,423.96 L117.53,423.79 L118.49,423.63 L119.46,423.46 L120.43,423.29 L121.40,423.12 L122.37,422.94 L123.34,422.77 L124.31,422.59 L125.28,422.41 L126.25,422.23 L127.22,422.05 L128.19,421.87 L129.16,421.68 L130.13,421.50 L131.10,421.31 L132.07,421.12 L133.04,420.94 L134.01,420.74 L134.98,420.55 L135.95,420.35 L136.92,420.15 L137.89,419.94 L138.86,419.73 L139.83,419.52 L140.80,419.31 L141.77,419.09 L142.74,418.87 L143.71,418.64 L144.68,418.42 L145.65,418.19 L146.62,417.96 L147.59,417.72 L148.56,417.48 L149.53,417.24 L150.50,417.00 L151.47,416.76 L152.44,416.51 L153.41,416.26 L154.38,416.01 L155.35,415.76 L156.32,415.50 L157.29,415.24 L158.26,414.98 L159.23,414.72 L160.20,414.46 L161.17,414.19 L162.14,413.93 L163.11,413.66 L164.08,413.38 L165.05,413.10 L166.02,412.81 L166.99,412.52 L167.96,412.22 L168.93,411.92 L169.90,411.61 L170.87,411.30 L171.84,410.98 L172.81,410.67 L173.78,410.35 L174.75,410.03 L175.72,409.71 L176.69,409.39 L177.66,409.07 L178.63,408.75 L179.60,408.43 L180.57,408.11 L181.54,407.80 L182.51,407.48 L183.48,407.16 L184.45,406.85 L185.42,406.53 L186.39,406.20 L187.36,405.88 L188.33,405.55 L189.30,405.22 L190.27,404.88 L191.24,404.54 L192.21,404.20 L193.18,403.85 L194.15,403.49 L195.12,403.13 L196.09,402.76 L197.06,402.39 L198.03,402.02 L199.00,401.64 L199.97,401.25 L200.94,400.87 L201.91,400.48 L202.88,400.09 L203.85,399.70 L204.82,399.31 L205.79,398.91 L206.76,398.51 L207.73,398.12 L208.70,397.72 L209.67,397.33 L210.64,396.93 L211.61,396.54 L212.58,396.14 L213.55,395.75 L214.52,395.36 L215.48,394.97 L216.45,394.59 L217.42,394.21 L218.39,393.83 L219.36,393.46 L220.33,393.09 L221.30,392.72 L222.27,392.36 L223.24,392.00 L224.21,391.64 L225.18,391.27 L226.15,390.90 L227.12,390.53 L228.09,390.17 L229.06,389.80 L230.03,389.43 L231.00,389.06 L231.97,388.69 L232.94,388.33 L233.91,387.96 L234.88,387.60 L235.85,387.24 L236.82,386.89 L237.79,386.53 L238.76,386.18 L239.73,385.84 L240.70,385.50 L241.67,385.16 L242.64,384.83 L243.61,384.51 L244.58,384.19 L245.55,383.88 L246.52,383.57 L247.49,383.27 L248.46,382.98 L249.43,382.70 L250.40,382.43 L251.37,382.16 L252.34,381.90 L253.31,381.65 L254.28,381.40 L255.25,381.16 L256.22,380.93 L257.19,380.69 L258.16,380.47 L259.13,380.25 L260.10,380.03 L261.07,379.82 L262.04,379.61 L263.01,379.41 L263.98,379.22 L264.95,379.03 L265.92,378.85 L266.89,378.67 L267.86,378.50 L268.83,378.33 L269.80,378.17 L270.77,378.01 L271.74,377.85 L272.71,377.70 L273.68,377.55 L274.65,377.40 L275.62,377.26 L276.59,377.12 L277.56,376.99 L278.53,376.86 L279.50,376.73 L280.47,376.61 L281.44,376.49 L282.41,376.37 L283.38,376.26 L284.35,376.15 L285.32,376.05 L286.29,375.95 L287.26,375.85 L288.23,375.76 L289.20,375.67 L290.17,375.58 L291.14,375.49 L292.11,375.40 L293.08,375.31 L294.05,375.22 L295.02,375.14 L295.99,375.06 L296.96,374.99 L297.93,374.93 L298.90,374.89 L299.87,374.85 L300.84,374.81 L301.81,374.78 L302.78,374.74 L303.75,374.71 L304.72,374.68 L305.69,374.65 L306.66,374.63 L307.63,374.61 L308.60,374.58 L309.57,374.56 L310.54,374.55 L311.51,374.53 L312.47,374.52 L313.44,374.50 L314.41,374.49 L315.38,374.48 L316.35,374.47 L317.32,374.46 L318.29,374.46 L319.26,374.45 L320.23,374.44 L321.20,374.43 L322.17,374.42 L323.14,374.42 L324.11,374.41 L325.08,374.41 L326.05,374.40 L327.02,374.40 L327.99,374.40 L328.96,374.40 L329.93,374.40 L330.90,374.40 L331.87,374.41 L332.84,374.42 L333.81,374.42 L334.78,374.43 L335.75,374.44 L336.72,374.45 L337.69,374.46 L338.66,374.47 L339.63,374.48 L340.60,374.49 L341.57,374.49 L342.54,374.50 L343.51,374.50 L344.48,374.50 L345.45,374.50 L346.42,374.50 L347.39,374.50 L348.36,374.50 L349.33,374.50 L350.30,374.50 L351.27,374.50 L352.24,374.50 L353.21,374.50 L354.18,374.50 L355.15,374.50 L356.12,374.50 L357.09,374.50 L358.06,374.50 L359.03,374.50 L360.00,374.50 L452.30,374.50 L457.10,385.70 L486.00,452.50" stroke="#a6dff7" stroke-width="4.2" stroke-dasharray="23.5 8" stroke-dashoffset="28.1"/>
</g>
<g>
<line x1="138.76" y1="451.80" x2="138.76" y2="446.50" stroke="#000" stroke-width="2.0"/>
<line x1="138.76" y1="38.90" x2="138.76" y2="44.20" stroke="#000" stroke-width="2.0"/>
<line x1="175.46" y1="451.80" x2="175.46" y2="446.50" stroke="#000" stroke-width="2.0"/>
<line x1="175.46" y1="38.90" x2="175.46" y2="44.20" stroke="#000" stroke-width="2.0"/>
<line x1="201.51" y1="451.80" x2="201.51" y2="446.50" stroke="#000" stroke-width="2.0"/>
<line x1="201.51" y1="38.90" x2="201.51" y2="44.20" stroke="#000" stroke-width="2.0"/>
<line x1="221.71" y1="451.80" x2="221.71" y2="446.50" stroke="#000" stroke-width="2.0"/>
<line x1="221.71" y1="38.90" x2="221.71" y2="44.20" stroke="#000" stroke-width="2.0"/>
<line x1="238.22" y1="451.80" x2="238.22" y2="446.50" stroke="#000" stroke-width="2.0"/>
<line x1="238.22" y1="38.90" x2="238.22" y2="44.20" stroke="#000" stroke-width="2.0"/>
<line x1="252.18" y1="451.80" x2="252.18" y2="446.50" stroke="#000" stroke-width="2.0"/>
<line x1="252.18" y1="38.90" x2="252.18" y2="44.20" stroke="#000" stroke-width="2.0"/>
<line x1="264.27" y1="451.80" x2="264.27" y2="446.50" stroke="#000" stroke-width="2.0"/>
<line x1="264.27" y1="38.90" x2="264.27" y2="44.20" stroke="#000" stroke-width="2.0"/>
<line x1="274.93" y1="451.80" x2="274.93" y2="446.50" stroke="#000" stroke-width="2.0"/>
<line x1="274.93" y1="38.90" x2="274.93" y2="44.20" stroke="#000" stroke-width="2.0"/>
<line x1="284.47" y1="451.80" x2="284.47" y2="441.40" stroke="#000" stroke-width="2.0"/>
<line x1="284.47" y1="38.90" x2="284.47" y2="49.30" stroke="#000" stroke-width="2.0"/>
<line x1="347.22" y1="451.80" x2="347.22" y2="446.50" stroke="#000" stroke-width="2.0"/>
<line x1="347.22" y1="38.90" x2="347.22" y2="44.20" stroke="#000" stroke-width="2.0"/>
<line x1="383.93" y1="451.80" x2="383.93" y2="446.50" stroke="#000" stroke-width="2.0"/>
<line x1="383.93" y1="38.90" x2="383.93" y2="44.20" stroke="#000" stroke-width="2.0"/>
<line x1="409.98" y1="451.80" x2="409.98" y2="446.50" stroke="#000" stroke-width="2.0"/>
<line x1="409.98" y1="38.90" x2="409.98" y2="44.20" stroke="#000" stroke-width="2.0"/>
<line x1="430.18" y1="451.80" x2="430.18" y2="446.50" stroke="#000" stroke-width="2.0"/>
<line x1="430.18" y1="38.90" x2="430.18" y2="44.20" stroke="#000" stroke-width="2.0"/>
<line x1="446.69" y1="451.80" x2="446.69" y2="446.50" stroke="#000" stroke-width="2.0"/>
<line x1="446.69" y1="38.90" x2="446.69" y2="44.20" stroke="#000" stroke-width="2.0"/>
<line x1="460.64" y1="451.80" x2="460.64" y2="446.50" stroke="#000" stroke-width="2.0"/>
<line x1="460.64" y1="38.90" x2="460.64" y2="44.20" stroke="#000" stroke-width="2.0"/>
<line x1="472.73" y1="451.80" x2="472.73" y2="446.50" stroke="#000" stroke-width="2.0"/>
<line x1="472.73" y1="38.90" x2="472.73" y2="44.20" stroke="#000" stroke-width="2.0"/>
<line x1="483.40" y1="451.80" x2="483.40" y2="446.50" stroke="#000" stroke-width="2.0"/>
<line x1="483.40" y1="38.90" x2="483.40" y2="44.20" stroke="#000" stroke-width="2.0"/>
<line x1="492.94" y1="451.80" x2="492.94" y2="441.40" stroke="#000" stroke-width="2.0"/>
<line x1="492.94" y1="38.90" x2="492.94" y2="49.30" stroke="#000" stroke-width="2.0"/>
<line x1="555.69" y1="451.80" x2="555.69" y2="446.50" stroke="#000" stroke-width="2.0"/>
<line x1="555.69" y1="38.90" x2="555.69" y2="44.20" stroke="#000" stroke-width="2.0"/>
<line x1="592.40" y1="451.80" x2="592.40" y2="446.50" stroke="#000" stroke-width="2.0"/>
<line x1="592.40" y1="38.90" x2="592.40" y2="44.20" stroke="#000" stroke-width="2.0"/>
<line x1="76.00" y1="432.14" x2="86.40" y2="432.14" stroke="#000" stroke-width="2.0"/>
<line x1="592.40" y1="432.14" x2="582.00" y2="432.14" stroke="#000" stroke-width="2.0"/>
<line x1="76.00" y1="412.48" x2="81.30" y2="412.48" stroke="#000" stroke-width="2.0"/>
<line x1="592.40" y1="412.48" x2="587.10" y2="412.48" stroke="#000" stroke-width="2.0"/>
<line x1="76.00" y1="392.81" x2="81.30" y2="392.81" stroke="#000" stroke-width="2.0"/>
<line x1="592.40" y1="392.81" x2="587.10" y2="392.81" stroke="#000" stroke-width="2.0"/>
<line x1="76.00" y1="373.15" x2="81.30" y2="373.15" stroke="#000" stroke-width="2.0"/>
<line x1="592.40" y1="373.15" x2="587.10" y2="373.15" stroke="#000" stroke-width="2.0"/>
<line x1="76.00" y1="353.49" x2="81.30" y2="353.49" stroke="#000" stroke-width="2.0"/>
<line x1="592.40" y1="353.49" x2="587.10" y2="353.49" stroke="#000" stroke-width="2.0"/>
<line x1="76.00" y1="333.83" x2="86.40" y2="333.83" stroke="#000" stroke-width="2.0"/>
<line x1="592.40" y1="333.83" x2="582.00" y2="333.83" stroke="#000" stroke-width="2.0"/>
<line x1="76.00" y1="314.17" x2="81.30" y2="314.17" stroke="#000" stroke-width="2.0"/>
<line x1="592.40" y1="314.17" x2="587.10" y2="314.17" stroke="#000" stroke-width="2.0"/>
<line x1="76.00" y1="294.50" x2="81.30" y2="294.50" stroke="#000" stroke-width="2.0"/>
<line x1="592.40" y1="294.50" x2="587.10" y2="294.50" stroke="#000" stroke-width="2.0"/>
<line x1="76.00" y1="274.84" x2="81.30" y2="274.84" stroke="#000" stroke-width="2.0"/>
<line x1="592.40" y1="274.84" x2="587.10" y2="274.84" stroke="#000" stroke-width="2.0"/>
<line x1="76.00" y1="255.18" x2="81.30" y2="255.18" stroke="#000" stroke-width="2.0"/>
<line x1="592.40" y1="255.18" x2="587.10" y2="255.18" stroke="#000" stroke-width="2.0"/>
<line x1="76.00" y1="235.52" x2="86.40" y2="235.52" stroke="#000" stroke-width="2.0"/>
<line x1="592.40" y1="235.52" x2="582.00" y2="235.52" stroke="#000" stroke-width="2.0"/>
<line x1="76.00" y1="215.86" x2="81.30" y2="215.86" stroke="#000" stroke-width="2.0"/>
<line x1="592.40" y1="215.86" x2="587.10" y2="215.86" stroke="#000" stroke-width="2.0"/>
<line x1="76.00" y1="196.20" x2="81.30" y2="196.20" stroke="#000" stroke-width="2.0"/>
<line x1="592.40" y1="196.20" x2="587.10" y2="196.20" stroke="#000" stroke-width="2.0"/>
<line x1="76.00" y1="176.53" x2="81.30" y2="176.53" stroke="#000" stroke-width="2.0"/>
<line x1="592.40" y1="176.53" x2="587.10" y2="176.53" stroke="#000" stroke-width="2.0"/>
<line x1="76.00" y1="156.87" x2="81.30" y2="156.87" stroke="#000" stroke-width="2.0"/>
<line x1="592.40" y1="156.87" x2="587.10" y2="156.87" stroke="#000" stroke-width="2.0"/>
<line x1="76.00" y1="137.21" x2="86.40" y2="137.21" stroke="#000" stroke-width="2.0"/>
<line x1="592.40" y1="137.21" x2="582.00" y2="137.21" stroke="#000" stroke-width="2.0"/>
<line x1="76.00" y1="117.55" x2="81.30" y2="117.55" stroke="#000" stroke-width="2.0"/>
<line x1="592.40" y1="117.55" x2="587.10" y2="117.55" stroke="#000" stroke-width="2.0"/>
<line x1="76.00" y1="97.89" x2="81.30" y2="97.89" stroke="#000" stroke-width="2.0"/>
<line x1="592.40" y1="97.89" x2="587.10" y2="97.89" stroke="#000" stroke-width="2.0"/>
<line x1="76.00" y1="78.22" x2="81.30" y2="78.22" stroke="#000" stroke-width="2.0"/>
<line x1="592.40" y1="78.22" x2="587.10" y2="78.22" stroke="#000" stroke-width="2.0"/>
<line x1="76.00" y1="58.56" x2="81.30" y2="58.56" stroke="#000" stroke-width="2.0"/>
<line x1="592.40" y1="58.56" x2="587.10" y2="58.56" stroke="#000" stroke-width="2.0"/>
</g>
<g stroke="#000" stroke-linecap="square">
<line x1="75.85" y1="38.9" x2="75.85" y2="451.8" stroke-width="2.5"/>
<line x1="592.45" y1="38.9" x2="592.45" y2="451.8" stroke-width="2.4"/>
<line x1="75.85" y1="38.85" x2="592.45" y2="38.85" stroke-width="2.2"/>
<line x1="75.85" y1="451.9" x2="592.45" y2="451.9" stroke-width="2.2"/>
</g>
<g fill="#000">

</g>
<rect x="93.8" y="60.3" width="252.5" height="152.8" rx="30" ry="30" fill="#fff" stroke="#000" stroke-width="2.2"/>
<g fill="none" stroke-width="3.6">
<line x1="105.5" y1="77.9" x2="174.2" y2="77.9" stroke="#568cee"/>
<line x1="105.5" y1="107.4" x2="174.2" y2="107.4" stroke="#eedd99" stroke-dasharray="13.2 2.8"/>
<line x1="105.5" y1="136.9" x2="174.2" y2="136.9" stroke="#e17a3e" stroke-dasharray="13.2 2.8"/>
<line x1="105.5" y1="166.35" x2="174.2" y2="166.35" stroke="#a6dff7" stroke-dasharray="13.2 2.8"/>
<line x1="105.5" y1="195.85" x2="174.2" y2="195.85" stroke="#ecab58"/>
</g>
<g>
<text transform="translate(286.20,20.72) rotate(0.1) scale(1.2229,1.0400)" font-size="21" fill="#000"><tspan class="it">ξ</tspan></text>
<text transform="translate(303.75,21.70) rotate(0.1) scale(1.1487,1.0364)" font-size="21" fill="#000">=</text>
<text transform="translate(324.36,19.40) rotate(0.1) scale(1.1854,0.9992)" font-size="21" fill="#000"><tspan class="it">T</tspan></text>
<text transform="translate(336.80,23.71) rotate(0.1) scale(1.3553,1.0104)" font-size="15" fill="#000"><tspan class="it">h</tspan></text>
<text transform="translate(354.14,22.67) rotate(0.1) scale(1.2984,1.2744)" font-size="21" fill="#000">/</text>
<text transform="translate(366.85,19.40) rotate(0.1) scale(1.0442,1.0122)" font-size="21" fill="#000">T</text>
<text transform="translate(272.54,512.14) rotate(0.1) scale(1.1807,1.0036)" font-size="24.5" fill="#000"><tspan class="sb">x</tspan></text>
<text transform="translate(294.25,514.72) rotate(0.1) scale(1.1616,1.0476)" font-size="24.5" fill="#000">=</text>
<text transform="translate(319.13,512.48) rotate(0.1) scale(1.2752,1.0891)" font-size="24.5" fill="#000"><tspan class="it">m</tspan></text>
<text transform="translate(340.50,517.09) rotate(0.1) scale(1.2011,1.0178)" font-size="18.4" fill="#000"><tspan class="it">X</tspan></text>
<text transform="translate(363.36,515.48) rotate(0.1) scale(1.3463,1.2181)" font-size="24.5" fill="#000">/</text>
<text transform="translate(378.35,512.50) rotate(0.1) scale(1.1071,1.0250)" font-size="24.5" fill="#000">T</text>
<text transform="translate(25.05,279.58) rotate(-89.9) scale(1.1263,1.0517)" font-size="25" fill="#000"><tspan class="it">ξ</tspan></text>
<text transform="translate(27.18,260.60) rotate(-89.9) scale(0.9614,1.2204)" font-size="25" fill="#000">/</text>
<text transform="translate(25.09,248.76) rotate(-89.9) scale(1.1368,1.0480)" font-size="25" fill="#000"><tspan class="it">ξ</tspan></text>
<text transform="translate(28.70,236.56) rotate(-89.9) scale(1.1847,0.9282)" font-size="18.6" fill="#000">inf</text>
<text transform="translate(70.51,474.49) rotate(0.1) scale(0.8512,1.0080)" font-size="25" fill="#000">1</text>
<text transform="translate(272.10,474.52) rotate(0.1) scale(1.0198,0.9986)" font-size="25" fill="#000">10</text>
<text transform="translate(473.97,474.42) rotate(0.1) scale(1.0107,1.0011)" font-size="25" fill="#000">100</text>
<text transform="translate(60.05,438.80) rotate(0.1) scale(0.7771,1.0000)" font-size="25" fill="#000">1</text>
<text transform="translate(40.89,340.50) rotate(0.1) scale(0.9712,1.0323)" font-size="25" fill="#000">1.5</text>
<text transform="translate(58.77,241.64) rotate(0.1) scale(1.0501,1.0037)" font-size="25" fill="#000">2</text>
<text transform="translate(40.39,143.46) rotate(0.1) scale(0.9801,0.9984)" font-size="25" fill="#000">2.5</text>
<text transform="translate(58.90,45.55) rotate(0.1) scale(0.9561,1.0090)" font-size="25" fill="#000">3</text>
<text transform="translate(185.12,83.45) rotate(0.1) scale(1.2408,0.9795)" font-size="18.0" fill="#568cee"><tspan class="it">m</tspan></text>
<text transform="translate(198.97,86.39) rotate(0.1) scale(1.5132,0.9488)" font-size="11" fill="#568cee"><tspan class="it">Y</tspan></text>
<text transform="translate(210.70,85.01) rotate(0.1) scale(1.0864,0.9681)" font-size="18.0" fill="#568cee">=</text>
<text transform="translate(223.01,83.55) rotate(0.1) scale(1.1983,0.9829)" font-size="18.0" fill="#568cee"><tspan class="it">m</tspan></text>
<text transform="translate(237.41,86.29) rotate(0.1) scale(1.4387,0.9548)" font-size="11" fill="#568cee"><tspan class="it">X</tspan></text>
<text transform="translate(248.03,85.93) rotate(0.1) scale(1.3929,1.2230)" font-size="18.0" fill="#568cee">/</text>
<text transform="translate(254.74,83.18) rotate(0.1) scale(1.1640,0.9760)" font-size="18.0" fill="#568cee">10</text>
<text transform="translate(185.03,112.71) rotate(0.1) scale(1.2374,0.9951)" font-size="18.0" fill="#eedd99"><tspan class="it">m</tspan></text>
<text transform="translate(199.38,115.90) rotate(0.1) scale(1.4137,0.9401)" font-size="11" fill="#eedd99"><tspan class="it">Y</tspan></text>
<text transform="translate(210.75,114.16) rotate(0.1) scale(1.1049,0.9651)" font-size="18.0" fill="#eedd99">=</text>
<text transform="translate(222.93,112.91) rotate(0.1) scale(1.2027,0.9824)" font-size="18.0" fill="#eedd99"><tspan class="it">m</tspan></text>
<text transform="translate(237.78,115.97) rotate(0.1) scale(1.4624,0.9428)" font-size="11" fill="#eedd99"><tspan class="it">X</tspan></text>
<text transform="translate(248.00,115.62) rotate(0.1) scale(1.3387,1.2397)" font-size="18.0" fill="#eedd99">/</text>
<text transform="translate(254.68,112.91) rotate(0.1) scale(1.1862,0.9758)" font-size="18.0" fill="#eedd99">10</text>
<text transform="translate(274.62,112.95) rotate(0.1) scale(1.1555,1.1766)" font-size="18.0" fill="#eedd99">,</text>
<text transform="translate(286.01,112.91) rotate(0.1) scale(1.0622,0.9562)" font-size="18.0" fill="#eedd99">NRFO</text>
<text transform="translate(185.13,142.32) rotate(0.1) scale(1.2393,0.9813)" font-size="18.0" fill="#e17a3e"><tspan class="it">m</tspan></text>
<text transform="translate(199.06,145.40) rotate(0.1) scale(1.5482,0.9455)" font-size="11" fill="#e17a3e"><tspan class="it">Y</tspan></text>
<text transform="translate(210.75,143.92) rotate(0.1) scale(1.1275,1.0236)" font-size="18.0" fill="#e17a3e">=</text>
<text transform="translate(223.12,142.32) rotate(0.1) scale(1.2005,0.9804)" font-size="18.0" fill="#e17a3e"><tspan class="it">m</tspan></text>
<text transform="translate(237.44,145.24) rotate(0.1) scale(1.4445,0.9537)" font-size="11" fill="#e17a3e"><tspan class="it">X</tspan></text>
<text transform="translate(247.93,144.90) rotate(0.1) scale(1.3965,1.2302)" font-size="18.0" fill="#e17a3e">/</text>
<text transform="translate(256.21,142.22) rotate(0.1) scale(1.0892,0.9551)" font-size="18.0" fill="#e17a3e">50</text>
<text transform="translate(185.03,171.77) rotate(0.1) scale(1.2214,0.9799)" font-size="18.0" fill="#a6dff7"><tspan class="it">m</tspan></text>
<text transform="translate(199.07,174.97) rotate(0.1) scale(1.5551,0.9356)" font-size="11" fill="#a6dff7"><tspan class="it">Y</tspan></text>
<text transform="translate(210.87,173.27) rotate(0.1) scale(1.1582,0.9717)" font-size="18.0" fill="#a6dff7">=</text>
<text transform="translate(223.02,171.78) rotate(0.1) scale(1.1962,0.9790)" font-size="18.0" fill="#a6dff7"><tspan class="it">m</tspan></text>
<text transform="translate(237.71,174.81) rotate(0.1) scale(1.4107,0.9528)" font-size="11" fill="#a6dff7"><tspan class="it">X</tspan></text>
<text transform="translate(247.95,174.38) rotate(0.1) scale(1.3683,1.2497)" font-size="18.0" fill="#a6dff7">/</text>
<text transform="translate(256.09,171.72) rotate(0.1) scale(1.0902,0.9532)" font-size="18.0" fill="#a6dff7">50</text>
<text transform="translate(274.46,171.88) rotate(0.1) scale(1.1821,1.0796)" font-size="18.0" fill="#a6dff7">,</text>
<text transform="translate(286.35,171.80) rotate(0.1) scale(1.0589,0.9607)" font-size="18.0" fill="#a6dff7">RFO</text>
<text transform="translate(185.01,201.34) rotate(0.1) scale(1.2302,0.9803)" font-size="18.0" fill="#ecab58"><tspan class="it">m</tspan></text>
<text transform="translate(198.68,204.39) rotate(0.1) scale(1.5284,0.9566)" font-size="11" fill="#ecab58"><tspan class="it">Y</tspan></text>
<text transform="translate(211.11,203.37) rotate(0.1) scale(1.0970,1.0442)" font-size="18.0" fill="#ecab58">&lt;&lt;</text>
<text transform="translate(234.19,201.34) rotate(0.1) scale(1.1953,0.9802)" font-size="18.0" fill="#ecab58"><tspan class="it">m</tspan></text>
<text transform="translate(248.25,204.34) rotate(0.1) scale(1.5315,0.9421)" font-size="11" fill="#ecab58"><tspan class="it">X</tspan></text>
<text transform="translate(258.11,240.18) rotate(0.1) scale(1.1283,0.9525)" font-size="19" fill="#000">Cannibalism</text>
<text transform="translate(402.07,126.29) rotate(0.1) scale(0.9632,0.9940)" font-size="17.7" fill="#000">Y</text>
<text transform="translate(418.29,126.26) rotate(0.1) scale(1.1131,1.0092)" font-size="17.7" fill="#000">FO</text>
<text transform="translate(320.73,407.47) rotate(0.1) scale(1.0508,0.9972)" font-size="17" fill="#000"><tspan class="it">T</tspan></text>
<text transform="translate(329.81,410.74) rotate(0.1) scale(1.4926,1.0285)" font-size="12" fill="#000"><tspan class="it">h</tspan></text>
<text transform="translate(339.64,408.66) rotate(0.1) scale(1.1642,0.9668)" font-size="17" fill="#000">~</text>
<text transform="translate(350.48,407.51) rotate(0.1) scale(1.4190,0.9777)" font-size="17" fill="#000"><tspan class="it">m</tspan></text>
<text transform="translate(366.14,410.30) rotate(0.1) scale(1.4080,0.9931)" font-size="11" fill="#000"><tspan class="it">Y</tspan></text>
</g>
<g>
<line x1="447.2" y1="120.8" x2="490.9" y2="120.8" stroke="#000" stroke-width="2.5"/><path d="M507.0,120.8 L488.0,126.1 L490.9,120.8 L488.0,115.5 Z" fill="#000"/>
<line x1="374.0" y1="241.9" x2="401.8" y2="274.9" stroke="#000" stroke-width="2.5"/><path d="M411.7,286.6 L396.0,276.3 L401.8,274.9 L404.1,269.4 Z" fill="#000"/>
<line x1="386.6" y1="403.3" x2="428.5" y2="387.6" stroke="#000" stroke-width="2.5"/><path d="M442.8,382.2 L427.8,393.5 L428.5,387.6 L424.1,383.6 Z" fill="#000"/>
</g>
</svg>
</body></html>
